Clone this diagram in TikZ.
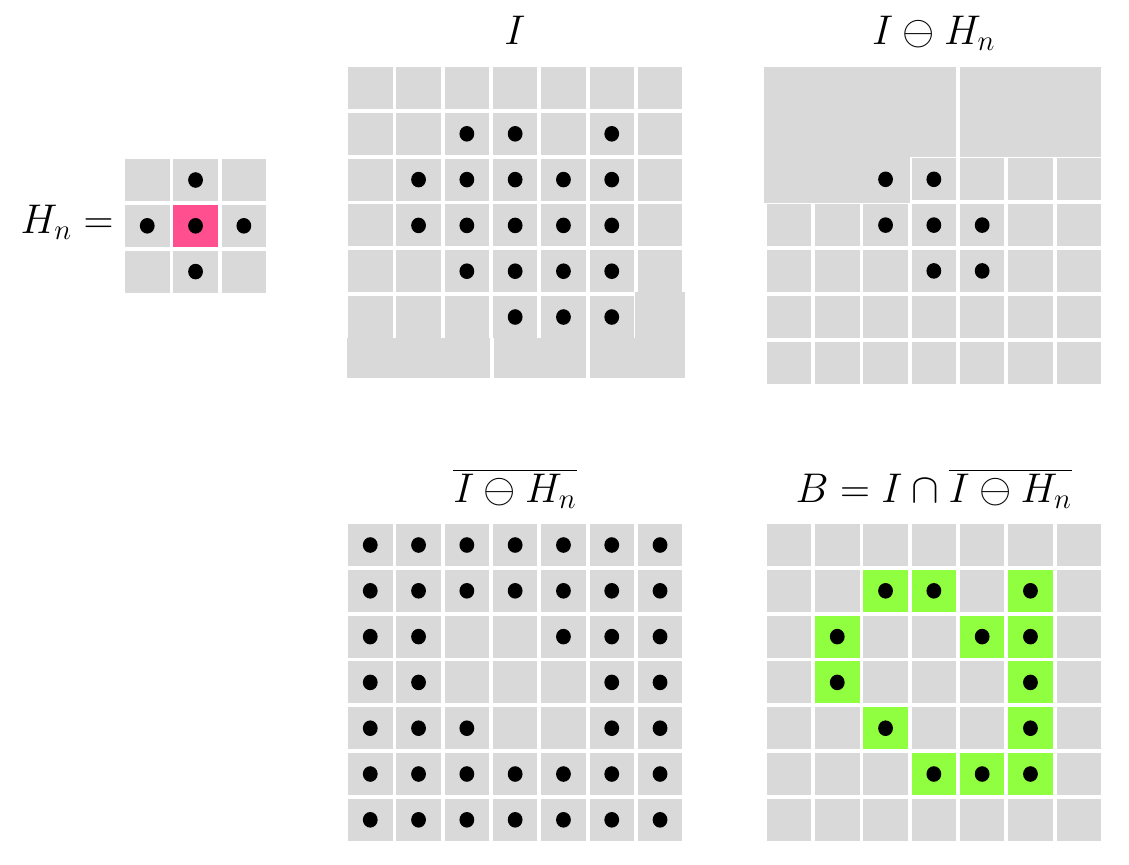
\documentclass[tikz,border=0pt]{standalone}
\usetikzlibrary{calc}

\definecolor{cellgray}{RGB}{217,217,217}
\definecolor{originpink}{RGB}{255,79,142}
\definecolor{edgegreen}{RGB}{143,255,64}

% one cell (col,row,colour) and one dot (col,row), relative to the scope origin
\newcommand{\cellat}[3]{\fill[#3] ({#1*48.3},{#2*45.8}) rectangle ++(44.5,42);}
\newcommand{\dotat}[2]{\fill[black] ({#1*48.3+22.25},{#2*45.8+21}) ellipse[x radius=3.7pt, y radius=3.9pt];}

\begin{document}
\begin{tikzpicture}[x=0.5pt, y=-0.5pt,
    title/.style={anchor=base, inner sep=0pt, font=\fontsize{19.3pt}{23pt}\selectfont}]

    \useasboundingbox (0,0) rectangle (1129,864);

    % --- Titles ---
    \node[title, anchor=base east] (hlabel) at (114,233) {$H_n =$};
    \node[title] (ilabel) at (515,44) {$I$};
    \node[title] (elabel) at (933.8,44) {$I \ominus H_n$};
    \node[title] (clabel) at (515,502) {$\overline{I \ominus H_n}$};
    \node[title] (blabel) at (933.8,502) {$B = I \cap \overline{I \ominus H_n}$};

    % --- Structuring element H_n ---
    \begin{scope}[shift={(125,159)}]
        \foreach \c in {0,1,2} \foreach \r in {0,1,2} {\cellat{\c}{\r}{cellgray}}
        \cellat{1}{1}{originpink}
        \foreach \c/\r in {1/0,0/1,1/1,2/1,1/2} {\dotat{\c}{\r}}
    \end{scope}

    % --- Image I ---
    \begin{scope}[shift={(348,67)}]
        \foreach \c in {0,...,6} \foreach \r in {0,...,4} {\cellat{\c}{\r}{cellgray}}
        \foreach \c in {0,...,5} {\cellat{\c}{5}{cellgray}}
    \end{scope}
    % merged bottom cells
    \fill[cellgray] (347.3,337.7) rectangle (490,378.3);
    \fill[cellgray] (494,337.7) rectangle (586,378.3);
    \fill[cellgray] (590,337.7) rectangle (635,378.3);
    \fill[cellgray] (635,292.3) rectangle (685,378.3);
    \begin{scope}[shift={(348,67)}]
        \foreach \c/\r in {2/1,3/1,5/1, 1/2,2/2,3/2,4/2,5/2, 1/3,2/3,3/3,4/3,5/3,
            2/4,3/4,4/4,5/4, 3/5,4/5,5/5} {\dotat{\c}{\r}}
    \end{scope}

    % --- Erosion I (-) H_n ---
    \begin{scope}[shift={(766.7,66.7)}]
        \foreach \c in {0,...,6} \foreach \r in {0,...,6} {\cellat{\c}{\r}{cellgray}}
    \end{scope}
    % merged top cells
    \fill[cellgray] (764,66.7) rectangle (956,156.7);
    \fill[cellgray] (764,156.7) rectangle (910,202.7);
    \fill[cellgray] (960,66.7) rectangle (1100.7,156.7);
    \begin{scope}[shift={(766.7,66.7)}]
        \foreach \c/\r in {2/2,3/2, 2/3,3/3,4/3, 3/4,4/4} {\dotat{\c}{\r}}
    \end{scope}

    % --- Complement of the erosion ---
    \begin{scope}[shift={(348,524)}]
        \foreach \c in {0,...,6} \foreach \r in {0,...,6} {\cellat{\c}{\r}{cellgray}}
        \foreach \c in {0,...,6} {\dotat{\c}{0} \dotat{\c}{1} \dotat{\c}{5} \dotat{\c}{6}}
        \foreach \c/\r in {0/2,1/2,4/2,5/2,6/2, 0/3,1/3,5/3,6/3, 0/4,1/4,2/4,5/4,6/4} {\dotat{\c}{\r}}
    \end{scope}

    % --- Boundary B ---
    \begin{scope}[shift={(766.7,524)}]
        \foreach \c in {0,...,6} \foreach \r in {0,...,6} {\cellat{\c}{\r}{cellgray}}
        \foreach \c/\r in {2/1,3/1,5/1, 1/2,4/2,5/2, 1/3,5/3, 2/4,5/4, 3/5,4/5,5/5}
            {\cellat{\c}{\r}{edgegreen} \dotat{\c}{\r}}
    \end{scope}

\end{tikzpicture}
\end{document}
